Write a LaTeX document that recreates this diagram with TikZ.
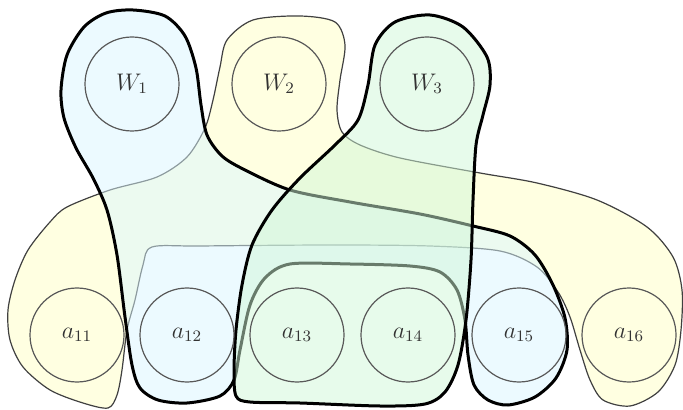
\documentclass[tikz,border=0pt]{standalone}
\usepackage{tikz}
\usetikzlibrary{positioning}
\definecolor{wblue}{RGB}{218,246,255}
\definecolor{wyellow}{RGB}{255,255,205}
\definecolor{wgreen}{RGB}{208,247,215}

\begin{document}
\begin{tikzpicture}[x=0.5pt, y=-0.5pt,
    vertex/.style={circle, draw=black!65, line width=0.6pt, minimum size=47pt, inner sep=0pt, text=black!80, font=\large},
    thickedge/.style={draw=black, line width=1.5pt, fill opacity=0.5},
    thinedge/.style={draw=black!75, line width=0.6pt, fill opacity=0.6}]
    \useasboundingbox (0,0) rectangle (683,410);
    % hyperedge of W2
    \draw[thinedge, fill=wyellow] plot[smooth cycle, tension=0.5] coordinates {
        (253,20) (300,16) (335,22) (345,45) (340,80) (337,110) (342,132) (360,145)
        (400,158) (480,173) (537,183) (597,200) (647,227) (673,257) (682,290) (681,330)
        (675,365) (658,392) (630,406) (603,400) (590,380) (580,350) (570,317) (558,292)
        (537,267) (500,251) (430,246) (330,245) (200,246) (152,247) (143,265) (135,300)
        (127,330) (122,370) (117,395) (108,408) (83,403) (50,390) (23,367) (10,340)
        (8,310) (15,280) (28,250) (50,222) (67,207) (110,190) (157,177) (187,157)
        (205,128) (213,100) (220,67) (227,40)};
    % hyperedge of W1
    \draw[thickedge, fill=wblue] plot[smooth cycle, tension=0.5] coordinates {
        (133,10) (165,16) (185,36) (196,68) (201,105) (207,135) (222,156) (245,170) (290,190)
        (350,202) (420,214) (473,226) (510,236) (535,255) (553,285) (565,318) (567,350)
        (556,378) (535,397) (508,405) (488,400) (474,385) (468,355) (465,320) (457,290)
        (440,272) (410,266) (350,264) (290,264) (265,278) (250,305) (240,350) (234,380)
        (220,396) (187,403) (158,400) (140,388) (132,365) (125,317) (117,255) (107,210)
        (93,178) (76,148) (64,118) (61,90) (67,55) (84,27) (106,13)};
    % hyperedge of W3
    \draw[thickedge, fill=wgreen] plot[smooth cycle, tension=0.5] coordinates {
        (430,15) (463,27) (487,57) (490,85) (483,115) (476,145) (473,200) (471,260)
        (466,320) (458,365) (445,392) (425,404) (380,406) (300,403) (250,402) (236,396)
        (234,370) (236,330) (242,285) (252,245) (272,210) (300,178) (335,145) (358,120)
        (368,85) (375,45) (395,22)};
    % vertices
    \node[vertex] (W1) at (132,84) {$W_1$};
    \node[vertex] (W2) at (279,84) {$W_2$};
    \node[vertex] (W3) at (427,84) {$W_3$};
    \node[vertex] (a11) at (77,335) {$a_{11}$};
    \node[vertex] (a12) at (187,335) {$a_{12}$};
    \node[vertex] (a13) at (297,335) {$a_{13}$};
    \node[vertex] (a14) at (408,335) {$a_{14}$};
    \node[vertex] (a15) at (519,335) {$a_{15}$};
    \node[vertex] (a16) at (629,335) {$a_{16}$};
\end{tikzpicture}
\end{document}
